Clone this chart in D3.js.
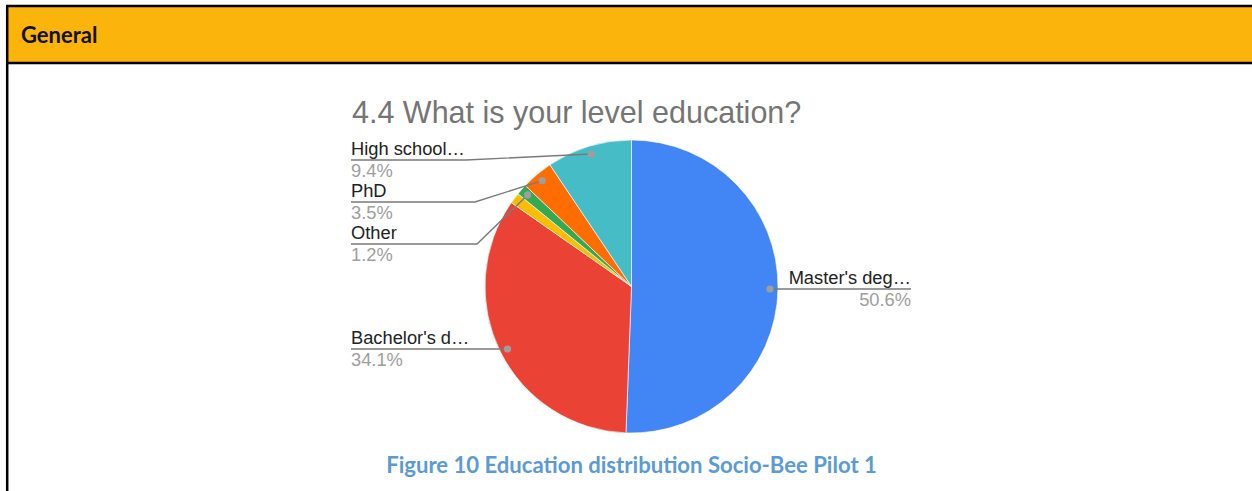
<!DOCTYPE html>
<html>
<head>
<meta charset="utf-8">
<script src="https://cdn.jsdelivr.net/npm/d3@7"></script>
<style>
body{ margin:0; background:#fff; }
svg{ display:block; }
</style>
</head>
<body>
<svg id="chart" width="1252" height="491"></svg>

<script>

/// data, clockwise from 12 o'clock
var categories = ["Master's degree", "Bachelor's degree", "Other (unlabelled)", "Other", "PhD", "High school"];
var labels     = ["Master's deg…", "Bachelor's d…", "", "Other", "PhD", "High school…"];
var values     = [50.6, 34.1, 1.2, 1.2, 3.5, 9.4];
var colors     = ["#4285F4", "#EA4335", "#FBBC04", "#34A853", "#FF6D01", "#46BDC6"];

var title   = "4.4 What is your level education?";
var header  = "General";
var caption = "Figure 10 Education distribution Socio-Bee Pilot 1";

var svg = d3.select("#chart");
var W = +svg.attr("width"), H = +svg.attr("height");

/// table header band
svg.append("rect").attr("x", 6).attr("y", 6).attr("width", W).attr("height", 57)
    .attr("fill", "#FBB40C");
svg.append("line").attr("x1", 6).attr("x2", W).attr("y1", 6).attr("y2", 6)
    .attr("stroke", "#000").attr("stroke-width", 2.5);
svg.append("line").attr("x1", 6).attr("x2", W).attr("y1", 63).attr("y2", 63)
    .attr("stroke", "#000").attr("stroke-width", 2.5);
svg.append("line").attr("x1", 7.2).attr("x2", 7.2).attr("y1", 6).attr("y2", H)
    .attr("stroke", "#000").attr("stroke-width", 2.5);

svg.append("text").attr("x", 21).attr("y", 42.5)
    .attr("font-family", "Lato, 'Open Sans', sans-serif")
    .attr("font-weight", 700).attr("font-size", 22).attr("fill", "#111")
    .text(header);

/// chart title
svg.append("text").attr("x", 352).attr("y", 123)
    .attr("font-family", "'Liberation Sans', Arial, sans-serif")
    .attr("font-size", 30.5).attr("fill", "#757575")
    .text(title);

/// pie
var cx = 631.5, cy = 286.5, r = 146.5;
var g = svg.append("g").attr("transform", "translate(" + cx + "," + cy + ")");

var data = categories.map(function(c, i){
    return {name: c, label: labels[i], value: values[i], color: colors[i]};
});

var pie = d3.pie().sort(null).value(function(d){ return d.value; });
var arcs = pie(data);

var arc = d3.arc().innerRadius(0).outerRadius(r);
var dotArc = d3.arc().innerRadius(r - 8).outerRadius(r - 8);

g.selectAll("path.slice")
  .data(arcs)
  .enter().append("path")
    .attr("class", "slice")
    .attr("d", arc)
    .attr("fill", function(d){ return d.data.color; })
    .attr("stroke", "#fff")
    .attr("stroke-width", 0.6);

/// label layout (screen positions of the leader lines, by slice name)
var labelLayout = {
    "Master's degree":   {side: "right", lineY: 289, textX: 911},
    "Bachelor's degree": {side: "left",  lineY: 349, textX: 351},
    "Other":             {side: "left",  lineY: 244, textX: 351, elbowX: 477},
    "PhD":               {side: "left",  lineY: 202, textX: 351, elbowX: 475},
    "High school":       {side: "left",  lineY: 160, textX: 351, elbowX: 466}
};

var fmt = d3.format(".1f");
var lab = svg.append("g");

arcs.forEach(function(a){
    var L = labelLayout[a.data.name];
    if (!L) return;
    var c = dotArc.centroid(a);
    var dx = cx + c[0], dy = cy + c[1];

    var pts;
    if (L.side === "right") {
        pts = [[dx, L.lineY], [L.textX, L.lineY]];
    } else if (L.elbowX) {
        pts = [[L.textX, L.lineY], [L.elbowX, L.lineY], [dx, dy]];
    } else {
        pts = [[L.textX, L.lineY], [dx, L.lineY]];
    }

    lab.append("path")
        .attr("d", d3.line()(pts))
        .attr("fill", "none")
        .attr("stroke", "#7a7a7a")
        .attr("stroke-width", 1.4);

    lab.append("circle")
        .attr("cx", dx).attr("cy", L.elbowX ? dy : L.lineY)
        .attr("r", 3.6)
        .attr("fill", "#9e9e9e");

    var anchor = L.side === "right" ? "end" : "start";
    lab.append("text")
        .attr("x", L.textX).attr("y", L.lineY - 5)
        .attr("text-anchor", anchor)
        .attr("font-family", "'Liberation Sans', Arial, sans-serif")
        .attr("font-size", 18.3).attr("fill", "#222")
        .text(a.data.label);

    lab.append("text")
        .attr("x", L.textX).attr("y", L.lineY + 17)
        .attr("text-anchor", anchor)
        .attr("font-family", "'Liberation Sans', Arial, sans-serif")
        .attr("font-size", 18.3).attr("fill", "#9e9e9e")
        .text(fmt(a.data.value) + "%");
});

/// figure caption
svg.append("text").attr("x", 631.5).attr("y", 473)
    .attr("text-anchor", "middle")
    .attr("font-family", "Lato, 'Open Sans', sans-serif")
    .attr("font-weight", 700).attr("font-size", 22.1).attr("fill", "#5B9BD5")
    .text(caption);

</script>
</body>
</html>
